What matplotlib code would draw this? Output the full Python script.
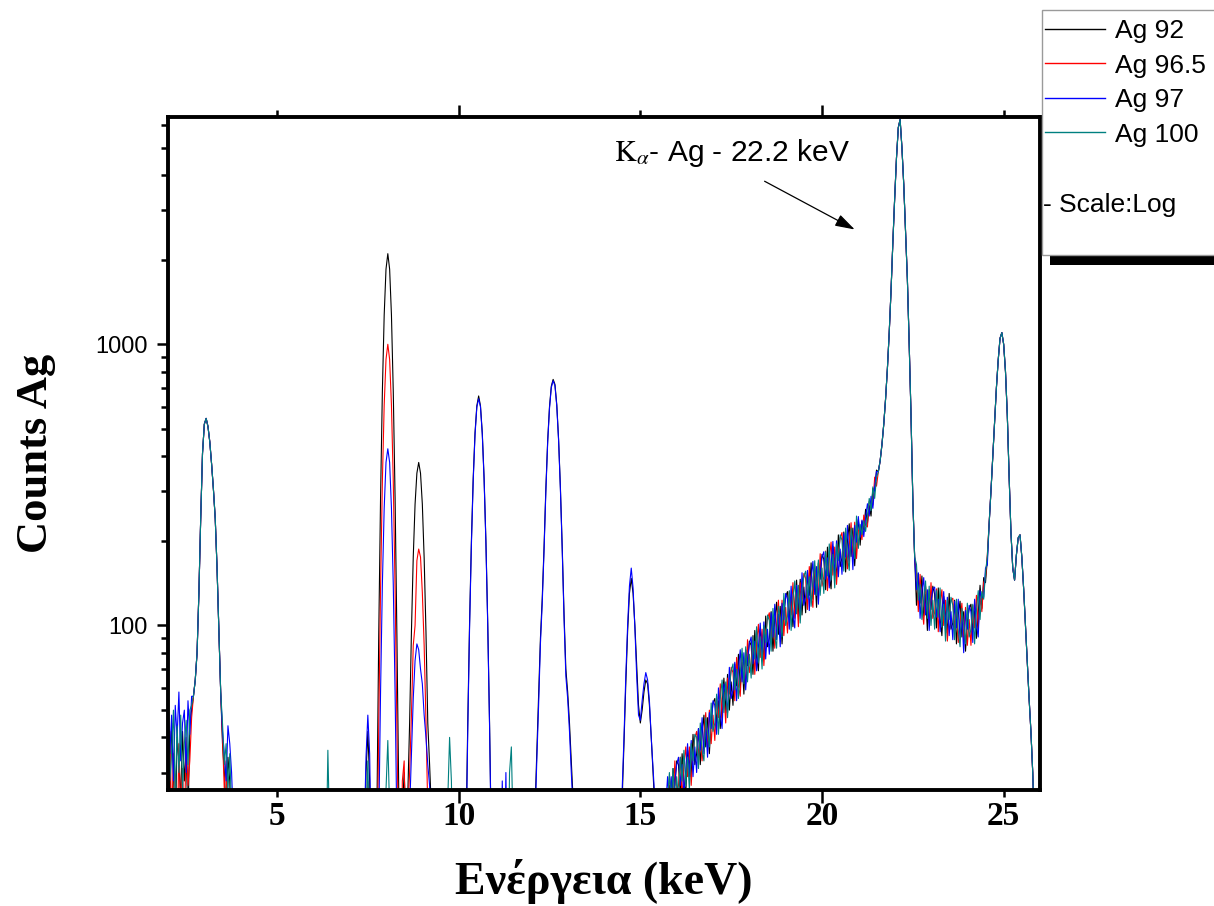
import matplotlib
matplotlib.use("Agg")
import matplotlib.pyplot as plt
from matplotlib.lines import Line2D
from matplotlib.patches import Rectangle
from matplotlib.ticker import FixedLocator, FormatStrFormatter, FuncFormatter, NullFormatter
import numpy as np

plt.rcParams['font.family'] = ['Liberation Sans', 'DejaVu Sans']
plt.rcParams['mathtext.fontset'] = 'stix'
SERIF = ['Liberation Serif', 'DejaVu Serif']

# energy channels (keV); counts below the axis floor are simply set under it
STEP = 0.05
energy = np.round(np.arange(2.0, 26.0 + STEP / 2, STEP), 2)
BELOW = 10

series_names = ["Ag 92", "Ag 96.5", "Ag 97", "Ag 100"]
series_colors = ["#000000", "#ff0000", "#0000ff", "#008080"]

# ---- lines shared by all four spectra (start energy, counts) ----
ag_l_lines = (2.70, [56, 64, 80, 130, 240, 410, 520, 545, 510, 450, 375, 305, 240, 160, 95, 58])
ag_k_alpha = (21.55, [352, 385, 440, 520, 640, 820, 1100, 1550, 2300, 3300,
                      4600, 5900, 6300, 5000, 3700, 2500, 1700, 1000, 560, 280, 175])
ag_k_beta = (24.60, [230, 300, 400, 530, 700, 880, 1050, 1100, 1000, 800,
                     560, 340, 215, 160, 145, 178, 205, 210, 175, 135,
                     100, 75, 55, 42, 30, 18, 10, 10, 10])

# ---- Ag 92 ----
ag92_low = (2.00, [38, 22, 45, 30, 18, 40, 33, 24, 42, 28, 36, 20, 44, 50])
ag92_tail = (3.50, [38, 30, 22, 34, 28, 15, 10, 10])
ag92_ni_cu = (7.40, [12, 30, 42, 28, 12, 10, 10, 22, 92, 284,
                     680, 1270, 1850, 2100, 1850, 1270, 680, 284, 92, 26,
                     12, 22, 30, 20, 25, 45, 95, 175, 270, 348,
                     380, 348, 270, 174, 95, 45, 32, 22, 12, 10, 10])
ag92_pb_la = (10.20, [17, 45, 102, 199, 334, 484, 604, 655, 604, 484, 334, 199, 102, 45, 17])
ag92_pb_lb = (12.10, [22, 35, 55, 90, 125, 190, 308, 455, 600, 710, 750, 720, 610, 460,
                      310, 190, 110, 70, 58, 45, 33, 24])
ag92_pb_lg = (14.50, [24, 38, 62, 95, 130, 147, 130, 100, 72, 52, 45, 50, 58, 64, 62, 52, 40, 30, 22])
ag92_continuum = (15.55, [13, 21, 19, 26, 21, 27, 21, 31, 27, 33,
                          32, 25, 35, 28, 25, 36, 33, 29, 41, 32,
                          35, 43, 32, 41, 48, 37, 47, 35, 46, 53,
                          55, 45, 54, 43, 53, 65, 49, 67, 50, 63,
                          52, 73, 61, 79, 60, 74, 57, 82, 72, 88,
                          85, 67, 96, 77, 69, 97, 88, 76, 108, 84,
                          90, 112, 81, 105, 121, 93, 117, 86, 111, 127,
                          132, 106, 126, 99, 120, 145, 109, 146, 109, 137,
                          111, 155, 128, 167, 124, 153, 116, 167, 146, 179,
                          172, 134, 190, 151, 135, 191, 172, 148, 210, 162,
                          174, 215, 155, 200, 230, 176, 222, 163, 210, 238,
                          193, 235, 219, 259, 231, 267, 245, 307, 301, 357])
ag92_valley = (22.60, [118, 153, 120, 150, 108, 129, 96, 134, 114, 138,
                       129, 98, 136, 105, 92, 127, 111, 94, 130, 97,
                       102, 123, 86, 109, 122, 91, 112, 81, 103, 115,
                       119, 95, 113, 90, 111, 139, 115, 148, 142, 172])

# ---- Ag 96.5 ----
ag965_low = (2.00, [30, 42, 20, 35, 26, 15, 38, 22, 31, 18, 40, 27, 33, 47])
ag965_tail = (3.50, [40, 26, 33, 18, 24, 12, 10, 10])
ag965_ni_cu = (7.40, [10, 10, 28, 18, 10, 10, 10, 12, 44, 135,
                      325, 607, 883, 1000, 883, 607, 325, 135, 44, 14,
                      10, 28, 33, 14, 22, 30, 48, 85, 100, 170,
                      187, 175, 131, 85, 46, 22, 12, 10, 10, 10, 10])
ag965_continuum = (15.55, [17, 15, 24, 20, 20, 29, 26, 23, 33, 25,
                           27, 34, 24, 32, 37, 29, 37, 27, 35, 40,
                           42, 34, 41, 33, 40, 49, 37, 50, 38, 48,
                           39, 56, 47, 62, 47, 58, 45, 65, 57, 71,
                           68, 54, 77, 61, 56, 79, 72, 62, 89, 68,
                           74, 92, 67, 87, 101, 77, 97, 72, 93, 106,
                           111, 89, 106, 83, 101, 123, 92, 123, 92, 116,
                           94, 132, 109, 142, 106, 131, 99, 142, 124, 153,
                           147, 114, 162, 129, 116, 163, 146, 127, 180, 138,
                           149, 184, 133, 172, 198, 151, 190, 140, 180, 205,
                           214, 171, 203, 159, 192, 232, 174, 233, 173, 217,
                           222, 202, 247, 227, 224, 276, 273, 268, 337, 313])
ag965_valley = (22.60, [155, 112, 152, 116, 101, 138, 121, 102, 142, 106,
                        111, 135, 95, 120, 134, 100, 123, 88, 111, 123,
                        125, 98, 113, 87, 102, 120, 88, 116, 85, 105,
                        85, 118, 98, 128, 98, 125, 112, 142, 148, 178])

# ---- Ag 97 ----
ag97_low = (2.00, [55, 35, 48, 28, 52, 40, 58, 33, 45, 50, 30, 54, 41, 56])
ag97_tail = (3.50, [42, 35, 28, 44, 38, 30, 20, 10])
ag97_ni_cu = (7.40, [18, 34, 48, 35, 14, 10, 10, 10, 19, 58,
                     140, 261, 380, 425, 380, 261, 140, 58, 19, 10,
                     10, 10, 10, 10, 12, 22, 35, 55, 75, 86,
                     82, 70, 62, 48, 40, 32, 27, 16, 10, 10, 10])
ag97_pb_la = (10.20, [15, 42, 98, 192, 326, 476, 598, 640, 600, 478, 330, 196, 100, 44, 16])
ag97_spike = (11.20, [28, 12, 30])
ag97_pb_lb = (12.10, [20, 33, 52, 86, 120, 185, 300, 448, 592, 702, 742, 712, 604, 455,
                      305, 186, 106, 66, 55, 42, 30, 22])
ag97_pb_lg = (14.50, [26, 40, 66, 100, 138, 160, 136, 98, 66, 48, 46, 54, 62, 68, 64, 54, 40, 31, 24])
ag97_continuum = (15.55, [14, 21, 17, 23, 29, 23, 29, 22, 28, 32,
                          34, 27, 32, 25, 31, 38, 29, 39, 29, 37,
                          30, 43, 36, 47, 35, 44, 34, 49, 43, 54,
                          52, 41, 60, 48, 43, 62, 57, 49, 71, 55,
                          59, 74, 54, 70, 82, 63, 80, 59, 76, 86,
                          91, 73, 88, 69, 84, 102, 77, 103, 76, 97,
                          79, 111, 91, 119, 89, 110, 84, 120, 105, 130,
                          124, 97, 138, 110, 98, 139, 125, 108, 154, 118,
                          127, 157, 113, 147, 169, 129, 162, 119, 155, 175,
                          183, 146, 174, 136, 165, 199, 150, 200, 149, 187,
                          152, 213, 175, 227, 169, 209, 158, 227, 198, 244,
                          206, 237, 207, 242, 271, 245, 288, 261, 311, 353])
ag97_valley = (22.60, [134, 154, 106, 132, 148, 109, 134, 96, 122, 135,
                       137, 107, 124, 95, 112, 132, 97, 126, 92, 112,
                       89, 122, 98, 124, 90, 108, 80, 113, 97, 118,
                       112, 87, 124, 100, 91, 133, 126, 126, 160, 164])

# ---- Ag 100 ----
ag100_low = (2.00, [45, 28, 36, 50, 24, 44, 30, 48, 26, 38, 46, 32, 50, 52])
ag100_tail = (3.50, [45, 32, 38, 26, 35, 22, 12, 10])
ag100_spikes = [(6.35, [14, 36, 18]), (7.45, [20, 33, 16]), (8.00, [26, 39, 22]),
                (9.70, [24, 40, 28, 12]), (11.40, [30, 37, 18])]
ag100_continuum = (15.55, [18, 17, 22, 18, 24, 30, 23, 31, 23, 29,
                           24, 34, 28, 36, 27, 34, 26, 38, 33, 41,
                           40, 31, 45, 36, 33, 47, 42, 37, 53, 42,
                           45, 57, 41, 55, 64, 49, 63, 47, 61, 69,
                           73, 59, 70, 55, 68, 83, 62, 84, 63, 79,
                           65, 92, 76, 99, 74, 91, 70, 100, 87, 109,
                           104, 81, 115, 92, 83, 117, 106, 91, 130, 100,
                           108, 133, 96, 125, 144, 110, 139, 102, 132, 150,
                           156, 125, 149, 117, 141, 170, 128, 171, 128, 160,
                           130, 183, 150, 195, 145, 179, 136, 195, 170, 210,
                           201, 156, 222, 176, 157, 222, 200, 173, 245, 188,
                           229, 210, 236, 216, 246, 283, 256, 311, 283, 336])
ag100_valley = (22.60, [165, 123, 140, 105, 123, 144, 106, 138, 100, 123,
                        97, 133, 107, 136, 99, 119, 88, 123, 105, 126,
                        118, 89, 124, 96, 84, 115, 101, 86, 120, 91,
                        97, 119, 86, 113, 133, 105, 132, 124, 154, 176])


def spectrum(segments):
    counts = np.full(energy.size, BELOW, dtype=float)
    for start, values in segments:
        i = int(round((start - energy[0]) / STEP))
        counts[i:i + len(values)] = values
    return counts


spectra = [
    spectrum([ag92_low, ag_l_lines, ag92_tail, ag92_ni_cu, ag92_pb_la, ag92_pb_lb,
              ag92_pb_lg, ag92_continuum, ag_k_alpha, ag92_valley, ag_k_beta]),
    spectrum([ag965_low, ag_l_lines, ag965_tail, ag965_ni_cu, ag965_continuum,
              ag_k_alpha, ag965_valley, ag_k_beta]),
    spectrum([ag97_low, ag_l_lines, ag97_tail, ag97_ni_cu, ag97_pb_la, ag97_spike,
              ag97_pb_lb, ag97_pb_lg, ag97_continuum, ag_k_alpha, ag97_valley, ag_k_beta]),
    spectrum([ag100_low, ag_l_lines, ag100_tail] + ag100_spikes +
             [ag100_continuum, ag_k_alpha, ag100_valley, ag_k_beta]),
]

W, H = 1214, 906
fig = plt.figure(figsize=(W / 100, H / 100), dpi=100)
ax = fig.add_axes([168 / W, 1 - 790 / H, 872 / W, 673 / H])

for counts, name, color in zip(spectra, series_names, series_colors):
    ax.plot(energy, counts, color=color, lw=0.8, label=name)

ax.set_yscale('log')
ax.set_xlim(2, 26)
ax.set_ylim(26, 6430)

for sp in ax.spines.values():
    sp.set_linewidth(2.8)

ax.xaxis.set_major_locator(FixedLocator([10, 20]))
ax.xaxis.set_minor_locator(FixedLocator([5, 15, 25]))
ax.xaxis.set_major_formatter(FormatStrFormatter('%d'))
ax.xaxis.set_minor_formatter(FormatStrFormatter('%d'))
ax.tick_params(axis='x', which='both', direction='out', top=True, labeltop=False,
               width=1.8, labelsize=24)
ax.tick_params(axis='x', which='major', length=9, pad=-1)
ax.tick_params(axis='x', which='minor', length=5, pad=3)
plt.setp(ax.get_xticklabels(which='both'), fontfamily=SERIF, fontweight='bold')

ax.yaxis.set_major_formatter(FuncFormatter(lambda v, p: f'{v:.0f}'))
ax.yaxis.set_minor_formatter(NullFormatter())
ax.tick_params(axis='y', which='both', direction='out', left=True, right=False,
               width=1.8, labelsize=17, pad=6.5)
ax.tick_params(axis='y', which='major', length=8)
ax.tick_params(axis='y', which='minor', length=5)

ax.set_xlabel('Ενέργεια (keV)', fontsize=33, fontweight='bold', fontfamily=SERIF)
ax.set_ylabel('Counts Ag', fontsize=32, fontweight='bold', fontfamily=SERIF)
ax.xaxis.set_label_coords(0.5, -0.103)
ax.yaxis.set_label_coords(-0.128, 0.5)

ax.text(14.28, 4480, r'$\mathrm{K}_{\alpha}$- Ag - 22.2 keV', fontsize=21.5,
        ha='left', va='baseline')
ax.annotate('', xy=(20.9, 2560), xytext=(18.42, 3800),
            arrowprops=dict(arrowstyle='-|>,head_length=0.8,head_width=0.25',
                            color='black', lw=0.9, mutation_scale=15,
                            shrinkA=0, shrinkB=0))

# legend box with its heavy shadow, partly running off the right edge
fig.add_artist(Rectangle((1050 / W, 1 - 265 / H), 0.2, 245 / H,
                         transform=fig.transFigure, facecolor='black',
                         edgecolor='none', zorder=1))
fig.add_artist(Rectangle((1042 / W, 1 - 255 / H), 0.2, 245 / H,
                         transform=fig.transFigure, facecolor='white',
                         edgecolor='#9a9a9a', lw=1.0, zorder=1.5))
handles = [Line2D([], [], color=c, lw=1.0) for c in series_colors]
fig.legend(handles=handles, labels=series_names, loc='upper left',
           bbox_to_anchor=(1045 / W, 1 - 19 / H), bbox_transform=fig.transFigure,
           frameon=False, fontsize=19, handlelength=2.27, handletextpad=0.4,
           labelspacing=0.4, borderpad=0, borderaxespad=0)
fig.text(1043 / W, 1 - 205 / H, '- Scale:Log', fontsize=19, va='center', ha='left',
         zorder=5)

fig.savefig('out.png', dpi=100, facecolor='white')
